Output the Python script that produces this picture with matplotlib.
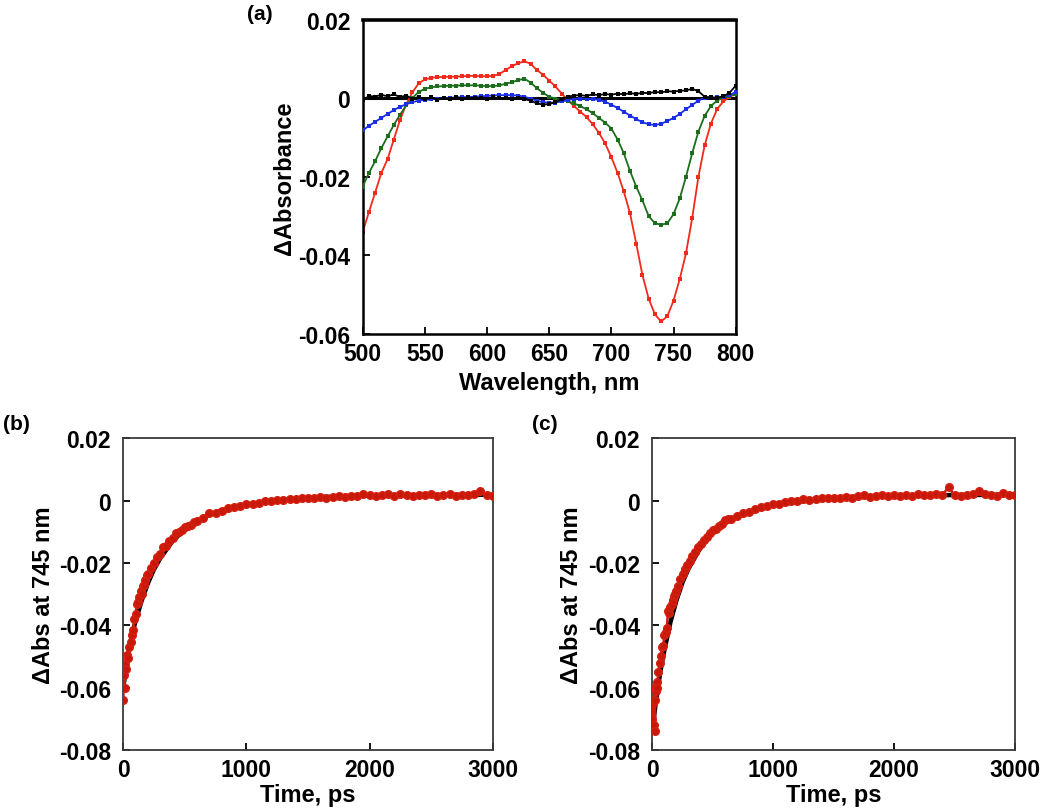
import matplotlib
matplotlib.use("Agg")
import matplotlib.pyplot as plt

plt.rcParams['font.family'] = ['Liberation Sans', 'DejaVu Sans']
plt.rcParams['font.weight'] = 'bold'

# ---------------- Panel (a) data ----------------
wavelength = list(range(500, 801, 5))
red_spec = [-0.0340, -0.0290, -0.0240, -0.0190, -0.0155, -0.0105, -0.0055, -0.0015, 0.0015, 0.0038,
            0.0048, 0.0052, 0.0054, 0.0054, 0.0055, 0.0055, 0.0056, 0.0057, 0.0057, 0.0056,
            0.0056, 0.0057, 0.0062, 0.0072, 0.0082, 0.0089, 0.0094, 0.0088, 0.0072, 0.0060,
            0.0045, 0.0030, 0.0012, -0.0005, -0.0020, -0.0034, -0.0048, -0.0066, -0.0088, -0.0115,
            -0.0150, -0.0190, -0.0237, -0.0293, -0.0370, -0.0450, -0.0510, -0.0550, -0.0568, -0.0555,
            -0.0515, -0.0460, -0.0395, -0.0305, -0.0200, -0.0120, -0.0065, -0.0028, -0.0008, 0.0003,
            0.0012]
green_spec = [-0.0225, -0.0190, -0.0160, -0.0127, -0.0097, -0.0068, -0.0042, -0.0018, 0.0001, 0.0016,
              0.0024, 0.0028, 0.0030, 0.0031, 0.0032, 0.0032, 0.0033, 0.0033, 0.0033, 0.0032,
              0.0031, 0.0031, 0.0033, 0.0037, 0.0041, 0.0046, 0.0050, 0.0040, 0.0026, 0.0014,
              0.0004, -0.0001, -0.0004, -0.0008, -0.0013, -0.0020, -0.0028, -0.0038, -0.0050, -0.0062,
              -0.0077, -0.0105, -0.0140, -0.0185, -0.0225, -0.0260, -0.0300, -0.0318, -0.0322, -0.0318,
              -0.0295, -0.0255, -0.0200, -0.0140, -0.0085, -0.0045, -0.0020, -0.0006, 0.0002, 0.0006,
              0.0010]
blue_spec = [-0.0082, -0.0070, -0.0060, -0.0050, -0.0040, -0.0030, -0.0022, -0.0015, -0.0010, -0.0006,
             -0.0004, -0.0003, -0.0001, 0.0000, 0.0001, 0.0002, 0.0003, 0.0003, 0.0004, 0.0005,
             0.0006, 0.0007, 0.0008, 0.0008, 0.0008, 0.0007, 0.0004, -0.0001, -0.0006, -0.0010,
             -0.0011, -0.0011, -0.0008, -0.0004, -0.0002, -0.0001, -0.0001, -0.0002, -0.0004, -0.0009,
             -0.0016, -0.0025, -0.0034, -0.0044, -0.0053, -0.0061, -0.0066, -0.0068, -0.0065, -0.0058,
             -0.0050, -0.0040, -0.0028, -0.0017, -0.0006, 0.0001, 0.0002, 0.0002, 0.0004, 0.0008,
             0.0016]
black_spec = [-0.0005, 0.0006, 0.0004, 0.0009, 0.0005, 0.0010, 0.0003, 0.0007, -0.0002, 0.0004,
              -0.0003, 0.0002, -0.0004, 0.0001, -0.0002, 0.0003, -0.0001, 0.0002, 0.0000, 0.0001,
              -0.0002, 0.0002, 0.0000, 0.0001, -0.0001, 0.0001, -0.0002, -0.0006, -0.0013, -0.0016,
              -0.0015, -0.0010, -0.0002, 0.0004, 0.0007, 0.0008, 0.0006, 0.0010, 0.0008, 0.0011,
              0.0009, 0.0012, 0.0010, 0.0013, 0.0011, 0.0014, 0.0013, 0.0016, 0.0015, 0.0018,
              0.0017, 0.0019, 0.0020, 0.0024, 0.0018, 0.0004, 0.0002, 0.0001, 0.0005, 0.0014,
              0.0032]

a_xticks = [500, 550, 600, 650, 700, 750, 800]
a_yticks = [0.02, 0, -0.02, -0.04, -0.06]
a_yticklabels = ['0.02', '0', '-0.02', '-0.04', '-0.06']

# ---------------- Panel (b) data ----------------
b_time = [0, 5, 10, 15, 20, 30, 40, 50, 60, 70, 80, 90, 100, 110, 120, 130, 140, 150, 160, 170, 180, 190, 200,
          225, 250, 275, 300, 325, 350, 375, 400, 425, 450, 475, 500, 525, 550, 575, 600,
          650, 700, 750, 800, 850, 900, 950, 1000, 1050, 1100, 1150, 1200, 1250, 1300, 1350, 1400, 1450,
          1500, 1550, 1600, 1650, 1700, 1750, 1800, 1850, 1900, 1950, 2000, 2050, 2100, 2150, 2200, 2250,
          2300, 2350, 2400, 2450, 2500, 2550, 2600, 2650, 2700, 2750, 2800, 2850, 2900, 2950, 3000]
b_data = [-0.0640, -0.0560, -0.0600, -0.0525, -0.0540, -0.0495, -0.0505, -0.0470, -0.0455, -0.0430,
          -0.0415, -0.0380, -0.0365, -0.0330, -0.0325, -0.0310, -0.0290, -0.0300, -0.0275, -0.0270,
          -0.0255, -0.0240, -0.0235,
          -0.0215, -0.0200, -0.0180, -0.0170, -0.0150, -0.0145, -0.0130, -0.0120, -0.0105, -0.0100,
          -0.0095, -0.0085, -0.0080, -0.0078, -0.0070, -0.0065,
          -0.0055, -0.0040, -0.0040, -0.0032, -0.0025, -0.0022, -0.0018, -0.0012, -0.0010, -0.0008,
          -0.0002, -0.0002, 0.0001, 0.0002, 0.0004, 0.0005, 0.0010, 0.0008, 0.0007, 0.0012, 0.0010,
          0.0013, 0.0015, 0.0011, 0.0014, 0.0016, 0.0022, 0.0017, 0.0015, 0.0018, 0.0020, 0.0016,
          0.0021, 0.0017, 0.0014, 0.0019, 0.0017, 0.0022, 0.0015, 0.0018, 0.0020, 0.0016, 0.0019,
          0.0017, 0.0020, 0.0030, 0.0018, 0.0016]
fit_time = [0, 25, 50, 75, 100, 150, 200, 250, 300, 400, 500, 600, 700, 800, 1000, 1200, 1400,
            1600, 1800, 2000, 2500, 3000]
b_fit = [-0.0600, -0.0530, -0.0470, -0.0425, -0.0385, -0.0320, -0.0265, -0.0220, -0.0185, -0.0130,
         -0.0092, -0.0065, -0.0045, -0.0031, -0.0013, -0.0002, 0.0006, 0.0011, 0.0014, 0.0016,
         0.0018, 0.0019]

# ---------------- Panel (c) data ----------------
c_time = [0, 5, 10, 15, 20, 25, 30, 35, 40, 50, 60, 70, 80, 90, 100, 110, 120, 130, 140, 150, 160, 170,
          180, 190, 200, 215, 230, 250, 270, 290, 310, 330, 350, 375, 400, 425, 450, 475, 500, 525, 550,
          575, 600, 625, 650, 700, 750, 800, 850, 900, 950, 1000, 1050, 1100, 1150, 1200, 1250, 1300,
          1350, 1400, 1450, 1500, 1550, 1600, 1650, 1700, 1750, 1800, 1850, 1900, 1950, 2000, 2050,
          2100, 2150, 2200, 2250, 2300, 2350, 2400, 2450, 2500, 2550, 2600, 2650, 2700, 2750, 2800,
          2850, 2900, 2950, 3000]
c_data = [-0.0700, -0.0650, -0.0720, -0.0600, -0.0738, -0.0640, -0.0610, -0.0583, -0.0600, -0.0550,
          -0.0520, -0.0500, -0.0470, -0.0465, -0.0430, -0.0420, -0.0410, -0.0355, -0.0360, -0.0340,
          -0.0330, -0.0320, -0.0305, -0.0300, -0.0290, -0.0273, -0.0250, -0.0235, -0.0219, -0.0205,
          -0.0195, -0.0178, -0.0166, -0.0150, -0.0140, -0.0125, -0.0118, -0.0105, -0.0095, -0.0090,
          -0.0080, -0.0075, -0.0062, -0.0060, -0.0058, -0.0048, -0.0040, -0.0035, -0.0028, -0.0022,
          -0.0017, -0.0012, -0.0010, -0.0005, -0.0002, -0.0001, 0.0005, 0.0002, 0.0006, 0.0008,
          0.0007, 0.0010, 0.0009, 0.0012, 0.0010, 0.0014, 0.0017, 0.0013, 0.0016, 0.0019, 0.0015,
          0.0018, 0.0016, 0.0019, 0.0015, 0.0020, 0.0017, 0.0018, 0.0021, 0.0019, 0.0043, 0.0017,
          0.0015, 0.0019, 0.0022, 0.0030, 0.0021, 0.0018, 0.0016, 0.0023, 0.0017, 0.0019]
c_fit = [-0.0740, -0.0660, -0.0590, -0.0530, -0.0480, -0.0390, -0.0320, -0.0262, -0.0218, -0.0150,
         -0.0105, -0.0073, -0.0050, -0.0035, -0.0015, -0.0004, 0.0005, 0.0011, 0.0014, 0.0016,
         0.0018, 0.0019]

bc_xticks = [0, 1000, 2000, 3000]
bc_yticks = [0.02, 0, -0.02, -0.04, -0.06, -0.08]
bc_yticklabels = ['0.02', '0', '-0.02', '-0.04', '-0.06', '-0.08']

# ---------------- Figure ----------------
W, H = 1050, 812
fig = plt.figure(figsize=(W / 100, H / 100), dpi=100)

def px_axes(l, t, r, b):
    return fig.add_axes([l / W, 1 - b / H, (r - l) / W, (b - t) / H])

FS = 16.5

def style(ax, spine_col, spine_lw):
    for s in ax.spines.values():
        s.set_color(spine_col)
        s.set_linewidth(spine_lw)
    ax.tick_params(direction='in', length=5, width=1.3, labelsize=FS, colors='black',
                   top=False, right=False)
    for lab in ax.get_xticklabels() + ax.get_yticklabels():
        lab.set_fontweight('bold')

# Panel (a)
axa = px_axes(362.7, 20.7, 735.7, 335)
axa.axhline(0, color='black', lw=2.2, zorder=1)
kw = dict(lw=1.3, marker='s', ms=2.6, mew=0)
axa.plot(wavelength, red_spec, color='#f02a1c', zorder=2, **kw)
axa.plot(wavelength, green_spec, color='#1c6e1c', zorder=3, **kw)
axa.plot(wavelength, blue_spec, color='#1a2ee6', zorder=4, **kw)
axa.plot(wavelength, black_spec, color='black', zorder=5, **kw)
axa.set_xlim(500, 800)
axa.set_ylim(-0.06, 0.02)
axa.set_xticks(a_xticks)
axa.set_yticks(a_yticks)
axa.set_yticklabels(a_yticklabels)
style(axa, 'black', 1.8)
axa.spines['top'].set_linewidth(2.6)
axa.tick_params(axis='y', pad=9)
axa.tick_params(axis='x', pad=6)
axa.set_xlabel('Wavelength, nm', fontsize=FS + 0.5, fontweight='bold')
axa.set_ylabel('ΔAbsorbance', fontsize=FS + 0.5, fontweight='bold')
axa.yaxis.set_label_coords(-0.178, 0.5)
axa.xaxis.set_label_coords(0.5, -0.118)
fig.text(247 / W, 1 - 15 / H, '(a)', fontsize=15, fontweight='bold', va='center', ha='left')

# Panels (b) and (c)
def kinetic(ax, t, d, fit, label, lx, ly):
    ax.plot(fit_time, fit, color='black', lw=3.2, zorder=2)
    ax.plot(t, d, color='#cc1a0c', lw=1.8, marker='o', ms=5.5, mec='#d42010', mfc='#c8180a',
            zorder=3)
    ax.set_xlim(0, 3000)
    ax.set_ylim(-0.08, 0.02)
    ax.set_xticks(bc_xticks)
    ax.set_yticks(bc_yticks)
    ax.set_yticklabels(bc_yticklabels)
    style(ax, '#3a3a3a', 1.3)
    ax.tick_params(axis='y', pad=9)
    ax.tick_params(axis='x', pad=6)
    ax.set_xlabel('Time, ps', fontsize=FS + 0.5, fontweight='bold')
    ax.set_ylabel('ΔAbs at 745 nm', fontsize=FS + 0.5, fontweight='bold')
    fig.text(lx / W, 1 - ly / H, label, fontsize=15, fontweight='bold', va='center', ha='left')

axb = px_axes(123.3, 439.3, 492.7, 751)
kinetic(axb, b_time, b_data, b_fit, '(b)', 3, 425)
axb.yaxis.set_label_coords(-0.186, 0.5)
axb.xaxis.set_label_coords(0.5, -0.105)

axc = px_axes(652.3, 439.3, 1015, 751)
kinetic(axc, c_time, c_data, c_fit, '(c)', 532, 425)
axc.yaxis.set_label_coords(-0.192, 0.5)
axc.xaxis.set_label_coords(0.5, -0.105)

fig.savefig('out.png', dpi=100)
